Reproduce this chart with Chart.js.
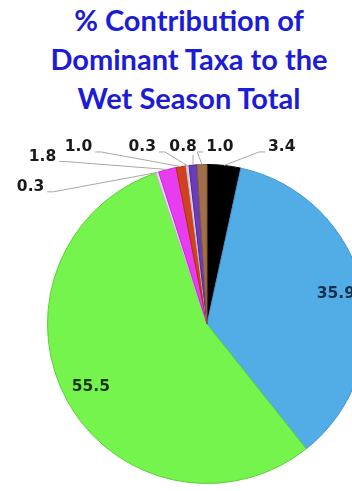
<!DOCTYPE html>
<html>
<head>
<meta charset="utf-8">
<script src="https://cdn.jsdelivr.net/npm/chart.js@4.4.1/dist/chart.umd.min.js"></script>
<style>
  html, body { margin: 0; padding: 0; overflow: hidden; background: #fff; width: 352px; height: 491px; }
  #title {
    position: absolute; left: 0; top: 0; width: 378px;
    text-align: center; font-family: Lato, sans-serif; font-weight: bold;
    font-size: 29px; line-height: 39px; color: #1c1cd6;
  }
  #wetChart { position: absolute; left: 0; top: 0; }
</style>
</head>
<body>
<div id="title">% Contribution of<br>Dominant Taxa to the<br>Wet Season Total</div>
<canvas id="wetChart" width="420" height="491"></canvas>
<script>
// porcentajes de cada taxón, en orden horario desde arriba
const taxa = ['Taxon 1', 'Taxon 2', 'Taxon 3', 'Taxon 4', 'Taxon 5', 'Taxon 6', 'Taxon 7', 'Taxon 8', 'Taxon 9'];
const percent = [3.4, 35.9, 55.5, 0.3, 1.8, 1.0, 0.3, 0.8, 1.0];
const sliceColors = ['#000000', '#52ade6', '#74f44c', '#eadcf0', '#e83cf0', '#d0421e', '#dcd2e8', '#6a3cb8', '#a0704a'];
const edgeColors = ['#000000', '#3f97d0', '#5ccf38', '#c8b8d8', '#c82ad0', '#b03010', '#c0b4d0', '#54289c', '#86583a'];

// donde va cada etiqueta externa (relativo al centro, en radios); null = dentro del sector
const callouts = [
  [0.469, -1.11], null, null, [-1.106, -0.86], [-1.031, -1.05],
  [-0.806, -1.11], [-0.406, -1.11], [-0.15, -1.11], [0.081, -1.11]
];
const insideInk = ['#111', '#16304c', '#1c3316', '#111', '#111', '#111', '#111', '#111', '#111'];

const valueLabels = {
  id: 'valueLabels',
  afterDatasetsDraw(chart) {
    const ctx = chart.ctx;
    const meta = chart.getDatasetMeta(0);
    ctx.save();
    ctx.font = 'bold 15.5px "DejaVu Sans", sans-serif';
    ctx.textAlign = 'center';
    ctx.textBaseline = 'middle';
    meta.data.forEach((arc, i) => {
      const p = arc.getProps(['x', 'y', 'startAngle', 'endAngle', 'outerRadius'], true);
      const mid = (p.startAngle + p.endAngle) / 2;
      const text = percent[i].toFixed(1);
      const c = callouts[i];
      if (!c) {
        ctx.fillStyle = insideInk[i];
        ctx.fillText(text, p.x + Math.cos(mid) * p.outerRadius * 0.83, p.y + Math.sin(mid) * p.outerRadius * 0.83);
        return;
      }
      const lx = p.x + c[0] * p.outerRadius;
      const ly = p.y + c[1] * p.outerRadius;
      const ex = p.x + Math.cos(mid) * p.outerRadius;
      const ey = p.y + Math.sin(mid) * p.outerRadius;
      const half = ctx.measureText(text).width / 2;
      ctx.strokeStyle = '#a8a8a8';
      ctx.lineWidth = 1;
      ctx.beginPath();
      if (ex > lx + half + 2) {
        ctx.moveTo(lx + half + 3, ly + 5);
        ctx.lineTo(lx + half + 9, ly + 5);
      } else if (ex < lx - half - 2) {
        ctx.moveTo(lx - half - 3, ly + 5);
        ctx.lineTo(lx - half - 9, ly + 5);
      } else {
        ctx.moveTo(ex, ly + 8);
      }
      ctx.lineTo(ex, ey);
      ctx.stroke();
      ctx.fillStyle = '#1a1a1a';
      ctx.fillText(text, lx, ly);
    });
    ctx.restore();
  }
};

const ctx = document.getElementById('wetChart').getContext('2d');
const wetChart = new Chart(ctx, {
  type: 'pie',
  data: {
    labels: taxa,
    datasets: [{
      data: percent,
      backgroundColor: sliceColors,
      borderColor: edgeColors,
      borderWidth: 1
    }]
  },
  options: {
    responsive: false,
    animation: false,
    devicePixelRatio: 1,
    layout: { padding: { left: 47, top: 164, right: 53, bottom: 7 } },
    plugins: {
      legend: { display: false },
      tooltip: { enabled: false }
    }
  },
  plugins: [valueLabels]
});
</script>
</body>
</html>
